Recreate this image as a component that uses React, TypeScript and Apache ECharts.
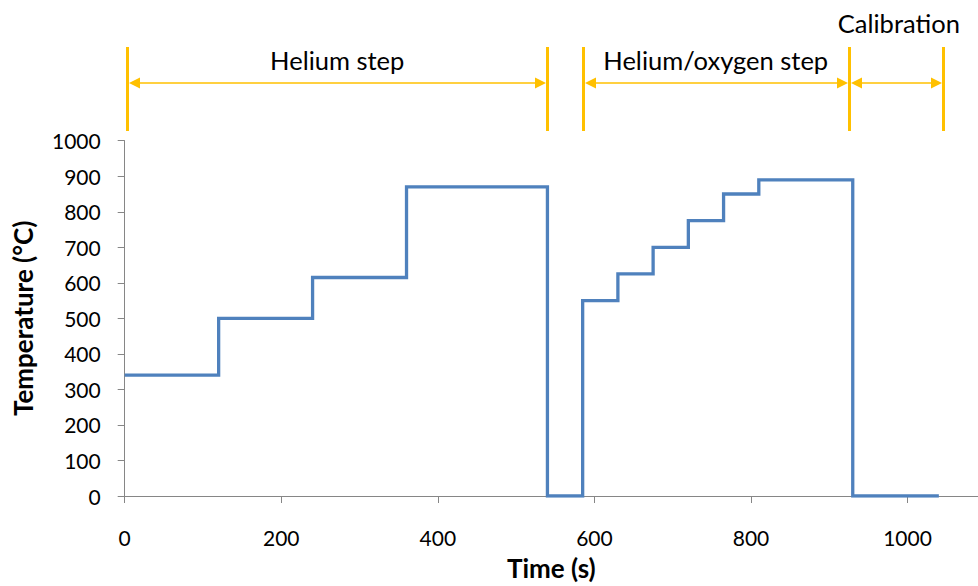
import React, { useEffect, useRef } from "react";
import * as echarts from "echarts";

const times = [0, 120, 240, 360, 540, 585, 630, 675, 720, 765, 810, 930, 1040];
const temps = [340, 500, 615, 870, 0, 550, 625, 700, 775, 850, 890, 0, 0];
const xTickValues = [0, 200, 400, 600, 800, 1000];
const markerTimes = [3, 540, 585, 925, 1045];
const phaseLabels = ["Helium step", "Helium/oxygen step", "Calibration"];
const phaseStarts = [3, 585, 925];
const phaseEnds = [540, 925, 1045];

const AXIS_COLOR = "#868686";
const GOLD = "#FFC000";
const FONT = "Lato, 'Open Sans', sans-serif";

export default function App() {
  const ref = useRef<HTMLDivElement>(null);
  useEffect(() => {
    if (!ref.current) return;
    const chart = echarts.init(ref.current, null, { renderer: "svg" });
    const data = times.map((t, i) => [t, temps[i]]);
    chart.setOption({
      animation: false,
      textStyle: { fontFamily: FONT },
      grid: { left: 124.7, right: 0, top: 140.7, bottom: 85.3, containLabel: false },
      xAxis: {
        type: "value",
        min: 0,
        max: 1090,
        interval: 200,
        name: "Time (s)",
        nameLocation: "middle",
        nameGap: 59,
        nameTextStyle: { fontFamily: FONT, fontSize: 26, fontWeight: "bold", color: "#000" },
        axisLine: { show: true, lineStyle: { color: AXIS_COLOR, width: 1 } },
        axisTick: { show: true, length: 7, lineStyle: { color: AXIS_COLOR }, customValues: xTickValues },
        axisLabel: {
          margin: 31,
          fontSize: 21,
          color: "#000",
          fontFamily: FONT,
          customValues: xTickValues,
          formatter: (v: number) => String(v),
        },
        splitLine: { show: false },
      },
      yAxis: {
        type: "value",
        min: 0,
        max: 1000,
        interval: 100,
        name: "Temperature (°C)",
        nameLocation: "middle",
        nameGap: 89,
        nameRotate: 90,
        nameTextStyle: { fontFamily: FONT, fontSize: 26, fontWeight: "bold", color: "#000" },
        axisLine: { show: true, lineStyle: { color: AXIS_COLOR, width: 1 } },
        axisTick: { show: true, length: 7, lineStyle: { color: AXIS_COLOR } },
        axisLabel: {
          margin: 24,
          fontSize: 21,
          color: "#000",
          fontFamily: FONT,
          formatter: (v: number) => String(v),
        },
        splitLine: { show: false },
      },
      series: [
        {
          type: "line",
          data,
          step: "end",
          showSymbol: false,
          symbol: "none",
          lineStyle: { color: "#4F81BD", width: 3.3, join: "miter", cap: "butt" },
        },
      ],
    });

    const px = (v: number) => chart.convertToPixel({ xAxisIndex: 0 }, v) as number;
    const graphics: any[] = [];
    const yTop = 47;
    const yBot = 131;
    const yArrow = 83;
    markerTimes.forEach((t) => {
      const x = Math.round(px(t)) + 0.5;
      graphics.push({
        type: "line",
        shape: { x1: x, y1: yTop, x2: x, y2: yBot },
        style: { stroke: GOLD, lineWidth: 3 },
        silent: true,
      });
    });
    phaseStarts.forEach((s, i) => {
      const a = Math.round(px(s)) + 0.5 + 1.5;
      const b = Math.round(px(phaseEnds[i])) + 0.5 - 1.5;
      graphics.push({
        type: "line",
        shape: { x1: a + 6, y1: yArrow, x2: b - 6, y2: yArrow },
        style: { stroke: GOLD, lineWidth: 1.5 },
        silent: true,
      });
      graphics.push({
        type: "polygon",
        shape: { points: [[a, yArrow], [a + 11, yArrow - 5.5], [a + 11, yArrow + 5.5]] },
        style: { fill: GOLD },
        silent: true,
      });
      graphics.push({
        type: "polygon",
        shape: { points: [[b, yArrow], [b - 11, yArrow - 5.5], [b - 11, yArrow + 5.5]] },
        style: { fill: GOLD },
        silent: true,
      });
      const mid = (px(s) + px(phaseEnds[i])) / 2;
      graphics.push({
        type: "text",
        x: i === 2 ? mid + 3 : mid,
        y: i === 2 ? 23 : 60,
        style: {
          text: phaseLabels[i],
          fontFamily: FONT,
          fontSize: 25.5,
          fill: "#000",
          align: "center",
          verticalAlign: "middle",
        },
        silent: true,
      });
    });
    chart.setOption({ graphic: graphics });
    return () => chart.dispose();
  }, []);
  return <div ref={ref} style={{ width: 978, height: 586, position: "absolute", left: 0, top: 0 }} />;
}
